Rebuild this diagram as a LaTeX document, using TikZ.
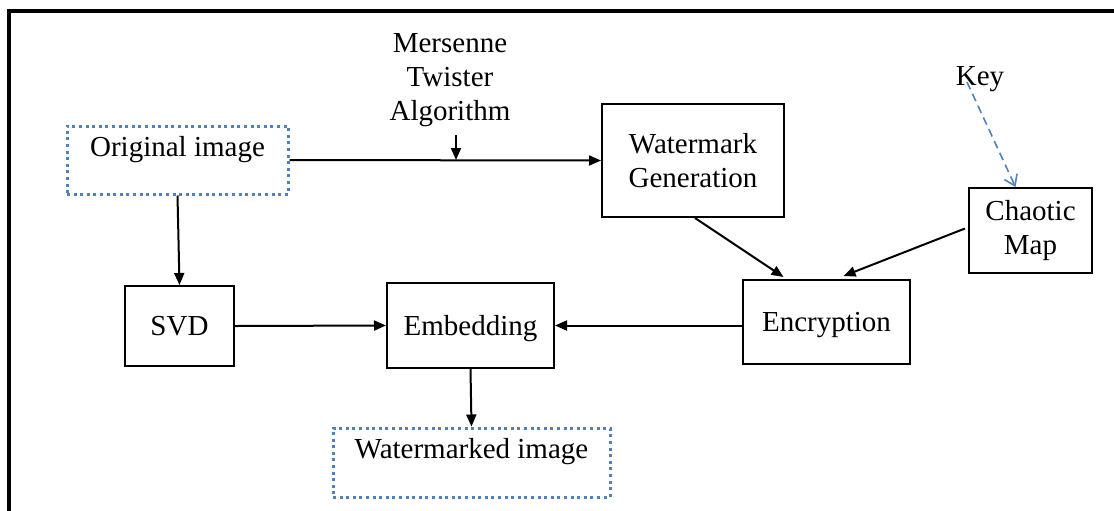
\documentclass[tikz,border=0pt]{standalone}
\usepackage{fontspec}
\setmainfont{Liberation Serif}
\usetikzlibrary{arrows.meta,calc}
\definecolor{dotblue}{RGB}{79,129,189}
\begin{document}
\begin{tikzpicture}[x=0.5pt,y=-0.5pt,
  every node/.style={font=\fontsize{14.5pt}{17pt}\selectfont, inner sep=0pt, align=center},
  box/.style={draw=black, line width=1pt, rectangle},
  onebox/.style={box, text height=9.5pt, text depth=0pt},
  dotbox/.style={draw=dotblue, line width=1.5pt, dash pattern=on 1.5pt off 1.8pt, rectangle, text height=11pt, text depth=15pt},
  arr/.style={line width=1pt, -{Triangle[length=6pt,width=5pt]}},
  keyarr/.style={draw=dotblue, line width=0.8pt, dash pattern=on 4pt off 2.5pt, -{Straight Barb[length=5pt,width=7pt]}},
  frame/.style={line width=1.75pt}]
\useasboundingbox (0,0) rectangle (1114,510);
\draw[frame] (9,511) -- (9,11) -- (1115,11);

\node[dotbox, minimum width=110.5pt, minimum height=34pt] (orig) at (177.5,160) {Original image};
\node[box, minimum width=91pt, minimum height=56.5pt] (wm) at (693,160.5) {Watermark\\Generation};
\node[box, minimum width=61.5pt, minimum height=42.5pt] (chaos) at (1030.5,230.5) {Chaotic\\Map};
\node[onebox, minimum width=83.5pt, minimum height=42pt] (enc) at (826.5,322) {Encryption};
\node[onebox, minimum width=83.5pt, minimum height=42.5pt] (emb) at (470.5,325.5) {Embedding};
\node[onebox, minimum width=54.5pt, minimum height=40pt] (svd) at (179.5,326) {SVD};
\node[dotbox, minimum width=138.5pt, minimum height=34.5pt] (wmd) at (471.5,462.5) {Watermarked image};
\node (mers) at (450,80) {Mersenne\\Twister\\Algorithm};
\node (key) at (980,79) {Key};

\coordinate (mt) at (456,135);
\coordinate (keystart) at (967,82);

\draw[arr] (orig.east) -- (wm.west);
\draw[arr] (mt) -- (mt |- orig.east);
\draw[arr] (orig.south) -- (svd.north);
\draw[arr] (svd.east) -- (emb.west);
\draw[arr] (enc.west |- emb.east) -- (emb.east);
\draw[arr] ($(wm.south)+(2,0)$) -- ($(enc.north)+(-43,-2)$);
\draw[arr] ($(chaos.west)+(-3,-2)$) -- ($(enc.north)+(17,-3)$);
\draw[arr] (emb.south) -- (wmd.north);
\draw[keyarr] (keystart) -- ($(chaos.north)+(-15,0)$);
\end{tikzpicture}
\end{document}
